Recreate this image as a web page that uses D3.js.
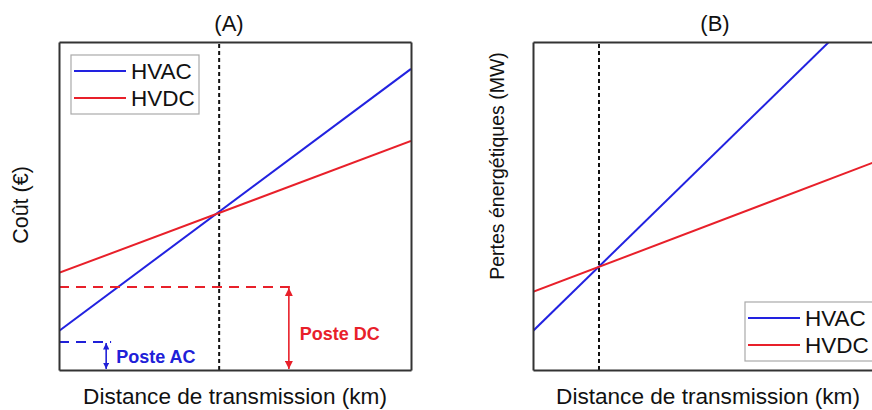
<!DOCTYPE html>
<html>
<head>
<meta charset="utf-8">
<script src="https://cdn.jsdelivr.net/npm/d3@7"></script>
<style>
  body { margin: 0; background: #fff; }
  text { font-family: "Liberation Sans", Arial, sans-serif; }
</style>
</head>
<body>
<svg id="chart" width="872" height="410"></svg>
<script>
// conceptual curves, arbitrary units (no ticks on the original)
var distance = [0, 100];
var coutHVAC = [11.9, 91.8];
var coutHVDC = [29.6, 69.8];
var croisementA = 45.5;
var postes = [
    { label: "Poste DC", level: 25.3, arrowAt: 65.3, dashEnd: 65.6, color: "#e8202a" },
    { label: "Poste AC", level: 8.5, arrowAt: 13.4, dashEnd: 14.8, color: "#2020d8" }
];
var pertesHVAC = [11.9, 116.7];
var pertesHVDC = [23.8, 64.6];
var croisementB = 18.75;

var seriesNames = ["HVAC", "HVDC"];
var colors = { HVAC: "#2222e0", HVDC: "#e8202a" };

var svg = d3.select("#chart");

// arrow heads for the station cost annotations
var defs = svg.append("defs");
postes.forEach(function (p, i) {
    defs.append("marker")
        .attr("id", "arrow" + i)
        .attr("viewBox", "0 0 10 10")
        .attr("refX", 10).attr("refY", 5)
        .attr("markerWidth", i === 0 ? 5 : 4)
        .attr("markerHeight", i === 0 ? 5 : 4)
        .attr("orient", "auto-start-reverse")
        .append("path")
        .attr("d", "M0,0 L10,5 L0,10 Z")
        .attr("fill", p.color);
});

/**
 * Draw one panel with its frame, vertical dashed line and both series.
 */
function drawPanel(opts) {
    var x = d3.scaleLinear().domain([0, 100]).range([opts.left, opts.right]);
    var y = d3.scaleLinear().domain([0, 100]).range([opts.bottom, opts.top]);
    var g = svg.append("g");

    defs.append("clipPath").attr("id", opts.id + "clip")
        .append("rect")
        .attr("x", opts.left).attr("y", opts.top)
        .attr("width", opts.right - opts.left).attr("height", opts.bottom - opts.top);

    var plot = g.append("g").attr("clip-path", "url(#" + opts.id + "clip)");

    // crossing distance
    plot.append("line")
        .attr("x1", x(opts.cross)).attr("x2", x(opts.cross))
        .attr("y1", y(0)).attr("y2", y(100))
        .attr("stroke", "#111").attr("stroke-width", 2)
        .attr("stroke-dasharray", "4,3");

    var line = d3.line().x((d, i) => x(distance[i])).y(d => y(d));
    opts.series.forEach(function (vals, i) {
        plot.append("path")
            .datum(vals)
            .attr("d", line)
            .attr("fill", "none")
            .attr("stroke", colors[seriesNames[i]])
            .attr("stroke-width", 2);
    });

    if (opts.postes) {
        opts.postes.forEach(function (p, i) {
            plot.append("line")
                .attr("x1", x(0)).attr("x2", x(p.dashEnd))
                .attr("y1", y(p.level)).attr("y2", y(p.level))
                .attr("stroke", p.color).attr("stroke-width", 2)
                .attr("stroke-dasharray", "10,7");
            g.append("line")
                .attr("x1", x(p.arrowAt)).attr("x2", x(p.arrowAt))
                .attr("y1", y(p.level) + 1).attr("y2", y(0) - 1)
                .attr("stroke", p.color).attr("stroke-width", 1.6)
                .attr("marker-start", "url(#arrow" + i + ")")
                .attr("marker-end", "url(#arrow" + i + ")");
            g.append("text")
                .attr("x", x(p.arrowAt) + (i === 0 ? 11 : 10))
                .attr("y", (y(p.level) + y(0)) / 2 + (i === 0 ? 11 : 7))
                .attr("fill", p.color)
                .attr("font-weight", "bold")
                .attr("font-size", "18px")
                .text(p.label);
        });
    }

    // frame drawn with tickless axes
    var frame = [
        [d3.axisBottom(x), "translate(0," + opts.bottom + ")"],
        [d3.axisTop(x), "translate(0," + opts.top + ")"],
        [d3.axisLeft(y), "translate(" + opts.left + ",0)"],
        [d3.axisRight(y), "translate(" + opts.right + ",0)"]
    ];
    frame.forEach(function (f) {
        var ax = g.append("g").attr("transform", f[1])
            .call(f[0].tickValues([]).tickSizeOuter(0));
        ax.select(".domain").attr("stroke", "#333").attr("stroke-width", 2);
    });

    g.append("text")
        .attr("x", opts.titleX).attr("y", 31)
        .attr("text-anchor", "middle").attr("font-size", "22px").attr("fill", "#111")
        .text(opts.title);

    g.append("text")
        .attr("x", opts.xLabelX).attr("y", 404)
        .attr("text-anchor", "middle").attr("font-size", "22.6px").attr("fill", "#111")
        .text("Distance de transmission (km)");

    g.append("text")
        .attr("transform", "translate(" + opts.yLabelX + "," + opts.yLabelY + ") rotate(-90)")
        .attr("text-anchor", "middle").attr("font-size", opts.yLabelSize).attr("fill", "#111")
        .text(opts.yLabel);

    // legend
    var lg = g.append("g").attr("transform", "translate(" + opts.legendX + "," + opts.legendY + ")");
    lg.append("rect")
        .attr("width", 128).attr("height", 59)
        .attr("fill", "#fff").attr("stroke", "#aaa").attr("stroke-width", 1.2);
    seriesNames.forEach(function (name, i) {
        lg.append("line")
            .attr("x1", 3).attr("x2", 55)
            .attr("y1", 16 + i * 27).attr("y2", 16 + i * 27)
            .attr("stroke", colors[name]).attr("stroke-width", 2);
        lg.append("text")
            .attr("x", 60).attr("y", 24 + i * 27)
            .attr("font-size", "22.5px").attr("fill", "#111")
            .text(name);
    });
}

drawPanel({
    id: "A", left: 59, right: 411, top: 42, bottom: 370,
    cross: croisementA, series: [coutHVAC, coutHVDC], postes: postes,
    title: "(A)", titleX: 229, xLabelX: 235,
    yLabel: "Coût (€)", yLabelX: 28, yLabelY: 205, yLabelSize: "21.5px",
    legendX: 71, legendY: 55
});

drawPanel({
    id: "B", left: 533, right: 885, top: 42, bottom: 370,
    cross: croisementB, series: [pertesHVAC, pertesHVDC],
    title: "(B)", titleX: 715, xLabelX: 708,
    yLabel: "Pertes énergétiques (MW)", yLabelX: 504, yLabelY: 166, yLabelSize: "19.5px",
    legendX: 745, legendY: 302
});
</script>
</body>
</html>
